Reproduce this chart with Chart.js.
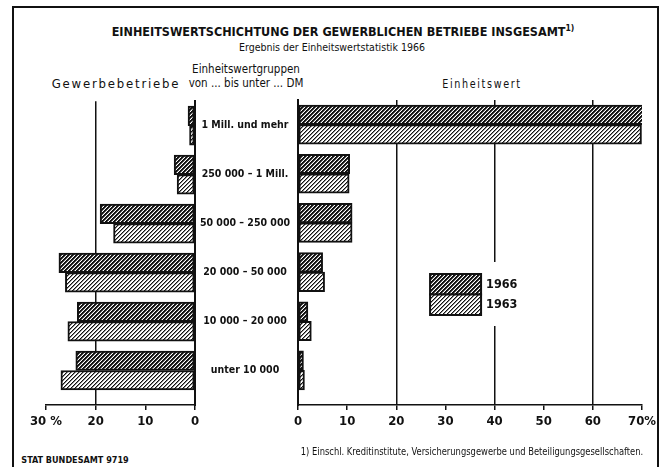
<!DOCTYPE html>
<html lang="de">
<head>
  <meta charset="UTF-8">
  <title>Einheitswertschichtung der gewerblichen Betriebe insgesamt</title>
  <style>
    body { margin: 0; background: #fff; }
    .page {
      position: relative;
      width: 663px;
      height: 467px;
      overflow: hidden;
      font-family: 'Liberation Sans Narrow', 'DejaVu Sans Condensed', sans-serif;
      color: #111;
    }
    .frame {
      position: absolute;
      left: 12px; top: 6px;
      width: 643px; height: 470px;
      border: 2px solid #111;
      border-bottom: none;
    }
    .txt {
      position: absolute;
      white-space: nowrap;
      line-height: 1;
      transform: translate(-50%, -50%);
    }
    .title { left: 343px; top: 31px; font-size: 12.5px; font-weight: bold; }
    .title sup { font-size: 8.5px; vertical-align: 5px; }
    .subtitle { left: 332px; top: 47px; font-size: 10.5px; }
    .head { top: 83px; font-size: 13px; }
    .head.left { left: 116px; letter-spacing: 1.8px; }
    .head.right { left: 482px; letter-spacing: 2px; transform: translate(-50%, -50%) scaleX(0.82); }
    .mid1 { left: 246px; top: 70px; font-size: 11.5px; }
    .mid2 { left: 246px; top: 84px; font-size: 11.5px; }
    .note { left: 472px; top: 452px; font-size: 10px; transform: translate(-50%, -50%) scaleX(0.93); }
    .source { left: 75px; top: 460px; font-size: 9px; font-weight: bold; }
    canvas { position: absolute; }
  </style>
</head>
<body>
  <div class="page">
    <div class="frame"></div>
    <div class="txt title">EINHEITSWERTSCHICHTUNG DER GEWERBLICHEN BETRIEBE INSGESAMT<sup>1)</sup></div>
    <div class="txt subtitle">Ergebnis der Einheitswertstatistik 1966</div>
    <div class="txt head left">Gewerbebetriebe</div>
    <div class="txt mid1">Einheitswertgruppen</div>
    <div class="txt mid2">von ... bis unter ... DM</div>
    <div class="txt head right">Einheitswert</div>
    <canvas id="betriebe" width="300" height="350" style="left:0px; top:90px;"></canvas>
    <canvas id="wert" width="373" height="350" style="left:290px; top:90px;"></canvas>
    <div class="txt note">1) Einschl. Kreditinstitute, Versicherungsgewerbe und Beteiligungsgesellschaften.</div>
    <div class="txt source">STAT BUNDESAMT 9719</div>
  </div>

  <script src="https://cdn.jsdelivr.net/npm/chart.js@4.4.1/dist/chart.umd.min.js"></script>
  <script>
    // Einheitswertgruppen von ... bis unter ... DM
    const CATEGORIES = [
      '1 Mill. und mehr',
      '250 000 – 1 Mill.',
      '50 000 – 250 000',
      '20 000 – 50 000',
      '10 000 – 20 000',
      'unter 10 000'
    ];
    const YEARS = ['1966', '1963'];

    // Gewerbebetriebe in %
    const BETRIEBE_1966 = [1.4, 4.2, 19.1, 27.4, 23.7, 24.0];
    const BETRIEBE_1963 = [1.1, 3.6, 16.4, 26.1, 25.6, 27.0];

    // Einheitswert in %
    const WERT_1966 = [71.0, 10.5, 11.0, 5.0, 2.0, 1.1];
    const WERT_1963 = [69.9, 10.4, 11.0, 5.4, 2.7, 1.3];

    const BETRIEBE_TICKS = [0, 10, 20, 30];
    const WERT_TICKS = [0, 10, 20, 30, 40, 50, 60, 70];

    const FONT = "'Liberation Sans Narrow', 'DejaVu Sans Condensed', sans-serif";
    const INK = '#111';
    const Y_MAX = 5.704;

    Chart.defaults.font.family = FONT;
    Chart.defaults.color = INK;
    Chart.defaults.animation = false;

    function hatch(dark) {
      const tile = document.createElement('canvas');
      tile.width = 4;
      tile.height = 4;
      const g = tile.getContext('2d');
      g.fillStyle = '#fff';
      g.fillRect(0, 0, 4, 4);
      for (let x = 0; x < 4; x++) {
        for (let y = 0; y < 4; y++) {
          const d = (x + y) % 4;
          let col = null;
          if (dark) col = d < 2 ? INK : (d === 2 ? '#6a6a6a' : null);
          else col = d === 0 ? INK : (d === 1 ? '#8a8a8a' : null);
          if (col) {
            g.fillStyle = col;
            g.fillRect(x, y, 1, 1);
          }
        }
      }
      return g.createPattern(tile, 'repeat');
    }
    const PATTERNS = [hatch(true), hatch(false)];

    function toPoints(values) {
      return values.map((v, i) => ({ x: v, y: i }));
    }

    function datasets(a, b) {
      return [a, b].map((values, i) => ({
        label: YEARS[i],
        data: toPoints(values),
        backgroundColor: PATTERNS[i],
        borderColor: INK,
        borderWidth: 2,
        borderSkipped: false,
        barThickness: 19.5
      }));
    }

    function xScale(ticks, reverse, lastLabel, gridAt) {
      return {
        type: 'linear',
        reverse,
        min: ticks[0],
        max: ticks[ticks.length - 1],
        afterBuildTicks: s => { s.ticks = ticks.map(v => ({ value: v })); },
        afterFit: s => { s.height = 35; },
        ticks: {
          padding: 4,
          font: { size: 13, weight: 'bold' },
          color: INK,
          callback: v => v === ticks[ticks.length - 1] ? lastLabel : v
        },
        grid: {
          color: c => c.tick && gridAt.includes(c.tick.value) ? INK : 'rgba(0,0,0,0)',
          lineWidth: 1.5,
          tickColor: INK,
          tickLength: 5,
          tickWidth: 1.5
        },
        border: { display: true, color: INK, width: 1.5 }
      };
    }

    // labels of the middle column, centered in the 100px wide axis
    const LABEL_FONT = { size: 10.5, weight: 'bold' };
    const probe = document.createElement('canvas').getContext('2d');
    probe.font = 'bold 10.5px ' + FONT;
    const widest = Math.max(...CATEGORIES.map(c => probe.measureText(c).width));

    const yBase = {
      type: 'linear',
      reverse: true,
      offset: false,
      min: -0.5,
      max: Y_MAX,
      afterBuildTicks: s => { s.ticks = CATEGORIES.map((c, i) => ({ value: i })); },
      grid: { display: false, drawTicks: false, offset: false },
      border: { display: true, color: INK, width: 2 }
    };

    new Chart(document.getElementById('betriebe'), {
      type: 'bar',
      data: { datasets: datasets(BETRIEBE_1966, BETRIEBE_1963) },
      options: {
        responsive: false,
        indexAxis: 'y',
        layout: { padding: { left: 46, right: 5, top: 10, bottom: 0 } },
        plugins: { legend: { display: false }, tooltip: { enabled: false } },
        scales: {
          x: xScale(BETRIEBE_TICKS, true, '30 %', [20]),
          y: Object.assign({}, yBase, {
            position: 'right',
            afterFit: s => { s.width = 100; },
            ticks: {
              autoSkip: false,
              crossAlign: 'center',
              padding: 50 - widest / 2,
              font: LABEL_FONT,
              color: INK,
              callback: v => CATEGORIES[v]
            }
          })
        }
      }
    });

    const legendBox = {
      id: 'legendBox',
      afterDraw(chart) {
        const { ctx, chartArea } = chart;
        const x = chartArea.left + 132;
        const y = chartArea.top + 174;
        ctx.save();
        ctx.fillStyle = '#fff';
        ctx.fillRect(x - 4, y - 12, 94, 64);
        YEARS.forEach((year, i) => {
          const top = y + i * 20.5;
          ctx.fillStyle = PATTERNS[i];
          ctx.fillRect(x, top, 51, 20.5);
          ctx.strokeStyle = INK;
          ctx.lineWidth = 2;
          ctx.strokeRect(x, top, 51, 20.5);
          ctx.fillStyle = INK;
          ctx.font = 'bold 12.5px ' + FONT;
          ctx.textBaseline = 'middle';
          ctx.fillText(year, x + 56, top + 10.5);
        });
        ctx.restore();
      }
    };

    new Chart(document.getElementById('wert'), {
      type: 'bar',
      data: { datasets: datasets(WERT_1966, WERT_1963) },
      plugins: [legendBox],
      options: {
        responsive: false,
        indexAxis: 'y',
        layout: { padding: { left: 5, right: 21, top: 10, bottom: 0 } },
        plugins: { legend: { display: false }, tooltip: { enabled: false } },
        scales: {
          x: xScale(WERT_TICKS, false, '70%', [20, 40, 60]),
          y: Object.assign({}, yBase, {
            position: 'left',
            afterFit: s => { s.width = 0; },
            ticks: { display: false }
          })
        }
      }
    });
  </script>
</body>
</html>
